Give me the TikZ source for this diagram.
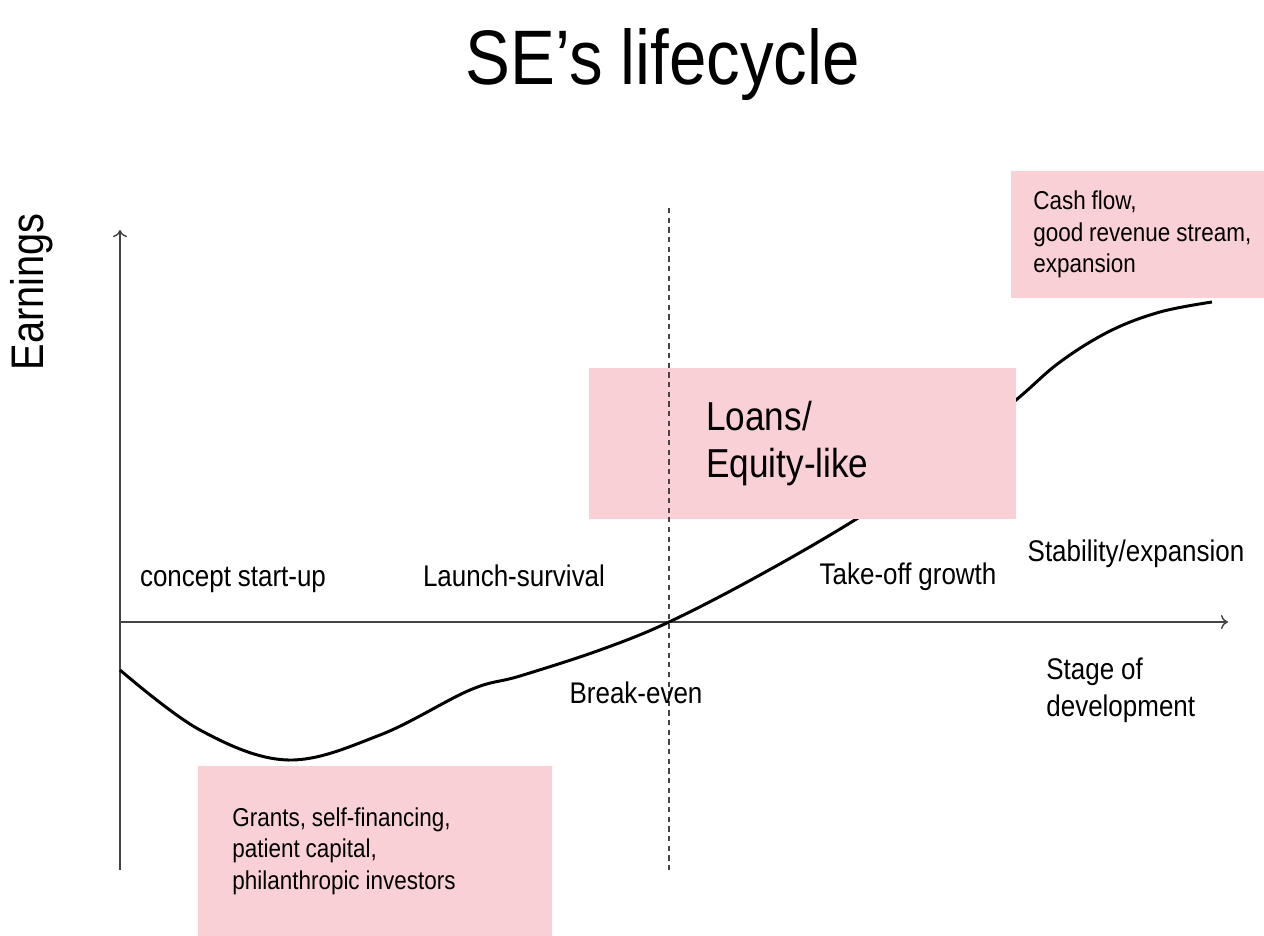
\documentclass[tikz,border=0pt]{standalone}
\usepackage{fontspec}
\setmainfont{Liberation Sans}[FakeStretch=0.87, WordSpace=0.95]
\usepackage{xcolor}
\usepackage{tikz}
\usetikzlibrary{positioning, arrows.meta, calc}
\definecolor{pinkfill}{HTML}{F9D0D6}
\definecolor{axisgray}{HTML}{444444}

\tikzset{
  stagelabel/.style={font=\fontsize{17}{21}\selectfont, inner sep=0pt},
  boxtext/.style={font=\fontsize{14.7}{18}\selectfont},
  fundbox/.style={fill=pinkfill, anchor=west, inner ysep=0pt, align=left,
                  execute at begin node={\spaceskip=\fontdimen2\font\relax}},
  axisline/.style={draw=axisgray, line width=0.8pt, -{To[length=4pt,width=8pt]}},
}

\begin{document}
\begin{tikzpicture}[x=0.02cm, y=-0.02cm]
    \useasboundingbox[fill=white] (0,0) rectangle (1264,936);

    % title and axis name
    \node[font=\fontsize{44}{50}\selectfont, anchor=base] (title) at (663,85) {SE’s lifecycle};
    \node[font=\fontsize{26}{30}\selectfont, rotate=90, anchor=base] (earnings) at (43,292) {Earnings};

    % axes
    \coordinate (origin) at (120,622);
    \coordinate (ytop) at (120,230);
    \coordinate (ybot) at (120,870);
    \coordinate (xend) at (1228,622);
    \draw[axisline] (ybot) -- (ytop);
    \draw[axisline] (origin) -- (xend);

    % earnings curve
    \draw[line width=1.7pt] plot[smooth, tension=0.6] coordinates {
      (120,670) (200,730) (288,760) (380,735) (470,690) (520,676)
      (600,650) (669,622) (760,575) (858,518) (940,462) (1016,400)
      (1060,362) (1110,331) (1160,312) (1212,302)};

    % funding boxes
    \node[fundbox, boxtext, minimum height=3.4cm, inner xsep=0.68cm, text width=5.72cm] (grants) at (198,851)
      {Grants, self-financing,\\patient capital,\\philanthropic investors};
    \node[fundbox, minimum height=3.02cm, inner xsep=2.34cm, text width=3.86cm,
          font=\fontsize{23}{27}\selectfont] (loans) at (589,443.5)
      {Loans/\\Equity-like};
    \node[fundbox, boxtext, minimum height=2.54cm, inner xsep=0.44cm, text width=4.6cm] (cashflow) at (1011,234.5)
      {Cash flow,\\good revenue stream,\\expansion};

    % break-even line
    \coordinate (bevtop) at (669,208);
    \coordinate (bevbot) at (669,870);
    \draw[axisgray, line width=0.6pt, dash pattern=on 3pt off 2.5pt] (bevtop) -- (bevbot);

    % stage labels
    \node[stagelabel, anchor=base] (concept) at (233,586) {concept start-up};
    \node[stagelabel, anchor=base] (launch) at (514,586) {Launch-survival};
    \node[stagelabel, anchor=base] (takeoff) at (908,584) {Take-off growth};
    \node[stagelabel, anchor=base] (stability) at (1136,561) {Stability/expansion};
    \node[stagelabel, anchor=base] (breakeven) at (636,703) {Break-even};
    \node[stagelabel, anchor=west, align=left] (stage) at (1046,690) {Stage of\\development};
\end{tikzpicture}
\end{document}
